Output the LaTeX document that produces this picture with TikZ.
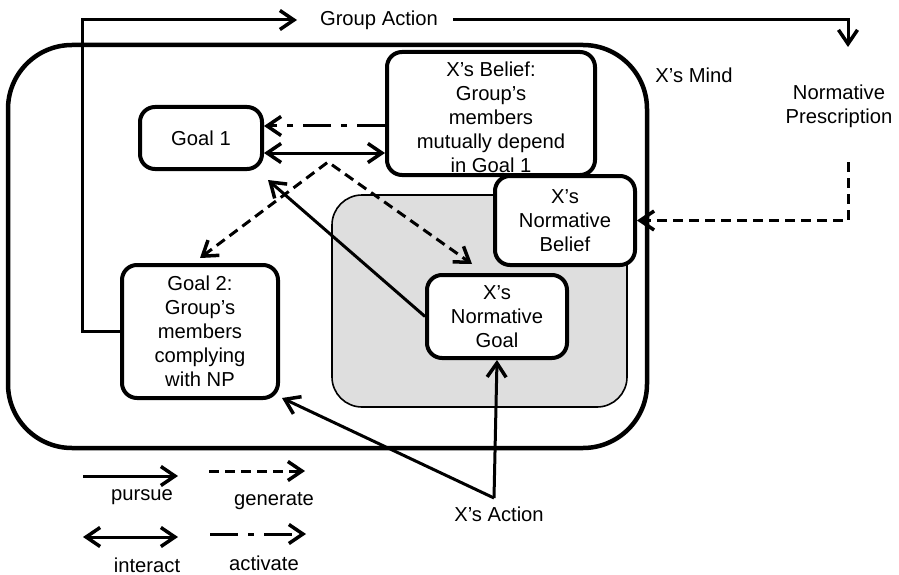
\documentclass[tikz,border=0pt]{standalone}
\usepackage{fontspec}
\setmainfont{Liberation Sans}
\usetikzlibrary{arrows.meta}
\begin{document}
\begin{tikzpicture}[x=1pt,y=-1pt,
  font=\fontsize{20.2}{24}\selectfont,
  barb/.tip={Straight Barb[length=14pt,width=19pt,line width=3.5pt]},
  box/.style={draw, line width=4pt, rounded corners=15pt, fill=white, align=center, inner sep=0pt},
  lbl/.style={align=center, inner sep=0pt},
  conn/.style={line width=3pt, line join=miter},
  pursue/.style={conn, -barb},
  interact/.style={conn, barb-barb},
  generate/.style={conn, -barb, dash pattern=on 10pt off 6pt},
  activate/.style={conn, -barb, dash pattern=on 28pt off 10pt on 6pt off 10pt}]
\useasboundingbox (0,0) rectangle (899,575);
% X's mind
\draw[line width=4.5pt, rounded corners=64pt] (8,45) rectangle (647,448);
\draw[line width=1.6pt, fill=black!13, rounded corners=30pt] (332,195) rectangle (627,407);
% nodes
\node[box, minimum width=122pt, minimum height=62pt] (goal1) at (201,138) {Goal 1};
\node[box, minimum width=208pt, minimum height=123pt] (belief) at (491,113.5) {};
\node[lbl] (beliefText) at (491,117.5) {X’s Belief:\\Group’s\\members\\mutually depend\\in Goal 1};
\node[box, minimum width=140pt, minimum height=89pt] (nbelief) at (565,220.5) {X’s\\Normative\\Belief};
\node[box, minimum width=140pt, minimum height=83pt] (ngoal) at (497,316.5) {X’s\\Normative\\Goal};
\node[box, minimum width=156pt, minimum height=133pt] (goal2) at (200,331.5) {Goal 2:\\Group’s\\members\\complying\\with NP};
\node[lbl] (mind) at (694,75) {X’s Mind};
\node[lbl] (np) at (839,106) {Normative\\Prescription};
\node[lbl] (ga) at (379,20) {Group Action};
\node[lbl] (xa) at (499,514) {X’s Action};
% coordinates
\coordinate (gaLeft) at (82,20);
\coordinate (gaIn) at (297,20);
\coordinate (gaOut) at (453,20);
\coordinate (npTop) at (848,47);
\coordinate (npBot) at (848,162);
\coordinate (peak) at (328,162);
\coordinate (g2tip) at (200,258);
\coordinate (ngtip) at (472,264);
\coordinate (g1tip) at (268,180);
\coordinate (xaTop) at (494,498);
\coordinate (g2se) at (282,398);
% connectors
\draw[pursue] (goal2.west) -| (gaLeft) -- (gaIn);
\draw[pursue] (gaOut) -| (npTop);
\draw[generate] (npBot) |- (nbelief.east);
\draw[activate] (belief.west |- 0,126) -- (goal1.east |- 0,126);
\draw[interact] (goal1.east |- 0,153) -- (belief.west |- 0,153);
\draw[generate, barb-barb] (g2tip) -- (peak) -- (ngtip);
\draw[pursue] (ngoal.west) -- (g1tip);
\draw[pursue] (xaTop) -- (ngoal.south);
\draw[pursue] (xaTop) -- (g2se);
% legend
\draw[pursue] (83,476) -- (178,476);
\node[lbl] (lpursue) at (142,497) {pursue};
\draw[generate] (209,471) -- (305,471);
\node[lbl] (lgenerate) at (274,501) {generate};
\draw[interact] (83,537) -- (178,537);
\node[lbl] (linteract) at (147,565) {interact};
\draw[activate] (210,534) -- (306,534);
\node[lbl] (lactivate) at (264,563) {activate};
\end{tikzpicture}
\end{document}
